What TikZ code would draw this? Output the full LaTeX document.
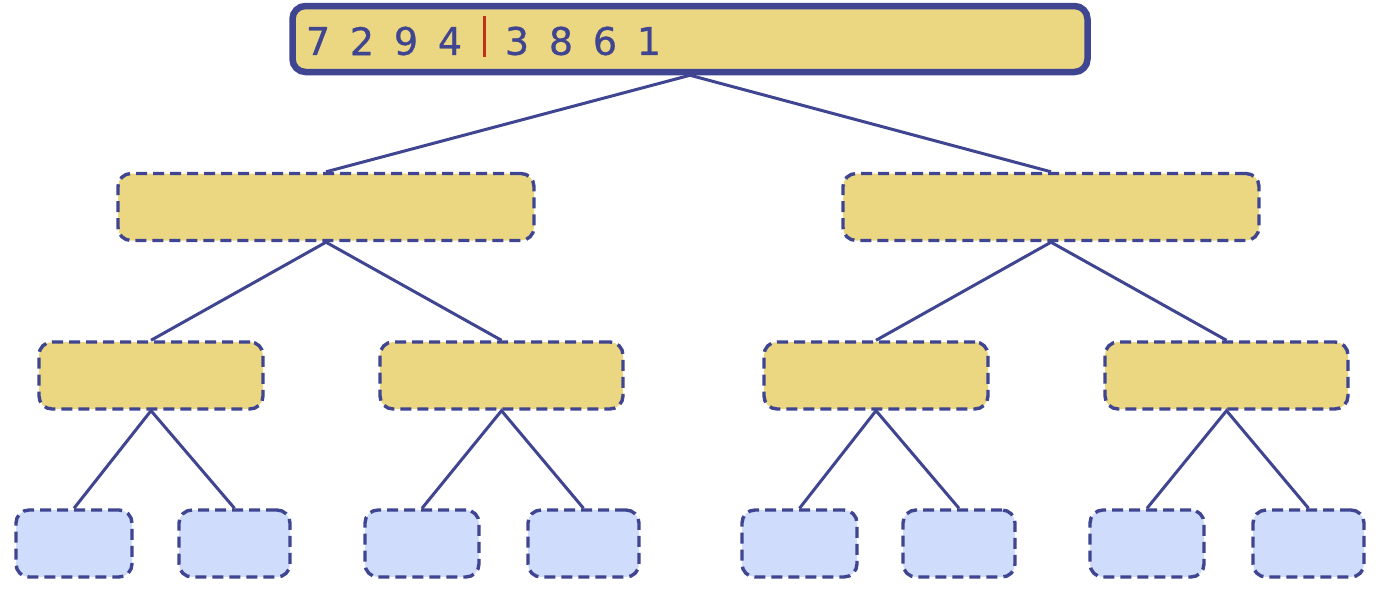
\documentclass[tikz,border=0pt]{standalone}
\usepackage{fontspec}
\setmainfont{DejaVu Sans}
\newfontfamily\digitfont[FakeBold=0.8]{DejaVu Sans}
\definecolor{boxyellow}{HTML}{EBD682}
\definecolor{leafblue}{HTML}{CFDCFB}
\definecolor{inkblue}{HTML}{3F4590}
\definecolor{splitred}{HTML}{C0301A}
\tikzset{arraybox/.style = {draw=inkblue, line width=6.5pt, fill=boxyellow, rounded corners=13pt, minimum width=795pt, minimum height=66pt}}
\tikzset{halfbox/.style = {draw=inkblue, line width=3.4pt, dash pattern=on 11pt off 6pt, fill=boxyellow, rounded corners=13pt, minimum height=67pt}}
\tikzset{leafbox/.style = {halfbox, fill=leafblue}}
\tikzset{branch/.style = {draw=inkblue, line width=3pt}}
\tikzset{digit/.style = {inkblue, font=\digitfont\fontsize{38}{42}\selectfont}}
\def\Ya{39}
\def\Yb{207}
\def\Yc{375.5}
\def\Yd{543.5}

\begin{document}
\begin{tikzpicture}[x=1pt, y=-1pt]
		% Frame
		\useasboundingbox (0,0) rectangle (1383,589);
		
		% Top Array
		\node[arraybox] (top) at (690,\Ya) {};
		\foreach \d [count=\i] in {7,2,9,4}
		{
			\node[digit] (dl\i) at (318+44*\i-44, \Ya+2) {\d};
		}
		\foreach \d [count=\i] in {3,8,6,1}
		{
			\node[digit] (dr\i) at (517+44*\i-44, \Ya+2) {\d};
		}
		%% Split
		\draw[splitred, line width=3pt] (484,16) coordinate(S) -- (484,57);
		
		% First Level
		\node[halfbox, minimum width=416pt] (l) at (326,\Yb) {};
		\node[halfbox, minimum width=416pt] (r) at (1051,\Yb) {};
		
		% Second Level
		\node[halfbox, minimum width=224pt] (ll) at (151,\Yc) {};
		\node[halfbox, minimum width=243pt] (lr) at (501.5,\Yc) {};
		\node[halfbox, minimum width=224pt] (rl) at (876,\Yc) {};
		\node[halfbox, minimum width=243pt] (rr) at (1226.5,\Yc) {};
		
		% Leaves
		\node[leafbox, minimum width=116pt] (lll) at (74,\Yd) {};
		\node[leafbox, minimum width=111pt] (llr) at (234.5,\Yd) {};
		\node[leafbox, minimum width=114pt] (lrl) at (422,\Yd) {};
		\node[leafbox, minimum width=111pt] (lrr) at (583.5,\Yd) {};
		\node[leafbox, minimum width=115pt] (rll) at (799.5,\Yd) {};
		\node[leafbox, minimum width=112pt] (rlr) at (959,\Yd) {};
		\node[leafbox, minimum width=114pt] (rrl) at (1147,\Yd) {};
		\node[leafbox, minimum width=111pt] (rrr) at (1308.5,\Yd) {};
		
		% Branches
		\draw[branch] (l.north) -- (top.south) -- (r.north);
		\foreach \p in {l, r, ll, lr, rl, rr}
		{
			\draw[branch] (\p l.north) -- (\p.south) -- (\p r.north);
		}
	\end{tikzpicture}
\end{document}
